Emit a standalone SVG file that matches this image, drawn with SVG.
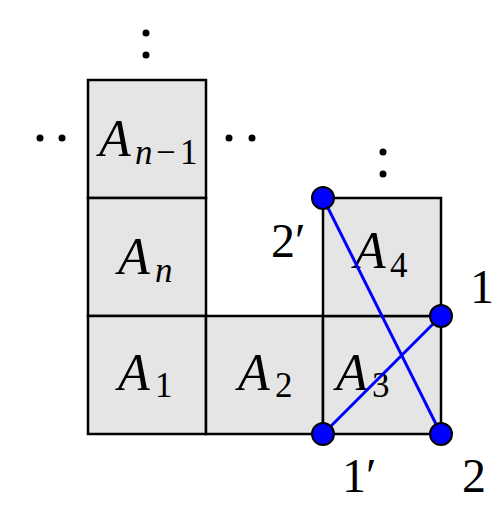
<svg xmlns="http://www.w3.org/2000/svg" width="503" height="522" viewBox="0 0 503 522">
<style>
.sq{fill:#e5e5e5;stroke:#000;stroke-width:2.5}
.big{font-family:"Liberation Serif",serif;font-style:italic;font-size:52px;fill:#000}
.sub{font-family:"Liberation Serif",serif;font-size:35px;fill:#000}
.subi{font-family:"Liberation Serif",serif;font-style:italic;font-size:35px;fill:#000}
.lab{font-family:"Liberation Serif",serif;font-size:48px;fill:#000}
.dot{fill:#000}
.bl{stroke:#0000ff;stroke-width:3;fill:none}
.bd{fill:#0000ff;stroke:#000;stroke-width:2}
</style>
<g id="dots">
<circle class="dot" cx="146" cy="33" r="3.5"/>
<circle class="dot" cx="146" cy="55" r="3.5"/>
<circle class="dot" cx="40" cy="138" r="3.5"/>
<circle class="dot" cx="62" cy="138" r="3.5"/>
<circle class="dot" cx="229" cy="138" r="3.5"/>
<circle class="dot" cx="252" cy="138" r="3.5"/>
<circle class="dot" cx="383" cy="152" r="3.5"/>
<circle class="dot" cx="383" cy="174" r="3.5"/>
</g>
<g id="An-1">
<rect class="sq" x="88" y="80" width="118" height="118"/>
<text class="big" x="99" y="156">A</text>
<text class="subi" x="135" y="164">n</text>
<text class="sub" x="156" y="164">−</text>
<text class="sub" x="180" y="164">1</text>
</g>
<g id="An">
<rect class="sq" x="88" y="198" width="118" height="118"/>
<text class="big" x="118" y="274">A</text>
<text class="subi" x="155" y="282">n</text>
</g>
<g id="A1">
<rect class="sq" x="88" y="316" width="118" height="118"/>
<text class="big" x="118" y="390">A</text>
<text class="sub" x="155" y="397">1</text>
</g>
<g id="A2">
<rect class="sq" x="206" y="316" width="117" height="118"/>
<text class="big" x="238" y="390">A</text>
<text class="sub" x="275" y="397">2</text>
</g>
<g id="A3">
<rect class="sq" x="323" y="316" width="118" height="118"/>
<text class="big" x="336" y="390">A</text>
<text class="sub" x="372" y="397">3</text>
</g>
<g id="A4">
<rect class="sq" x="323" y="198" width="118" height="118"/>
<text class="big" x="354" y="268">A</text>
<text class="sub" x="390" y="277">4</text>
</g>
<g id="connectors">
<line class="bl" x1="323" y1="198" x2="441" y2="434"/>
<line class="bl" x1="441" y1="316" x2="323" y2="434"/>
</g>
<g id="points">
<circle class="bd" cx="323" cy="198" r="11"/>
<circle class="bd" cx="441" cy="316" r="11"/>
<circle class="bd" cx="323" cy="434" r="11"/>
<circle class="bd" cx="441" cy="434" r="11"/>
<text class="lab" x="271" y="257">2′</text>
<text class="lab" x="470" y="303">1</text>
<text class="lab" x="342" y="492">1′</text>
<text class="lab" x="462" y="492">2</text>
</g>
</svg>
